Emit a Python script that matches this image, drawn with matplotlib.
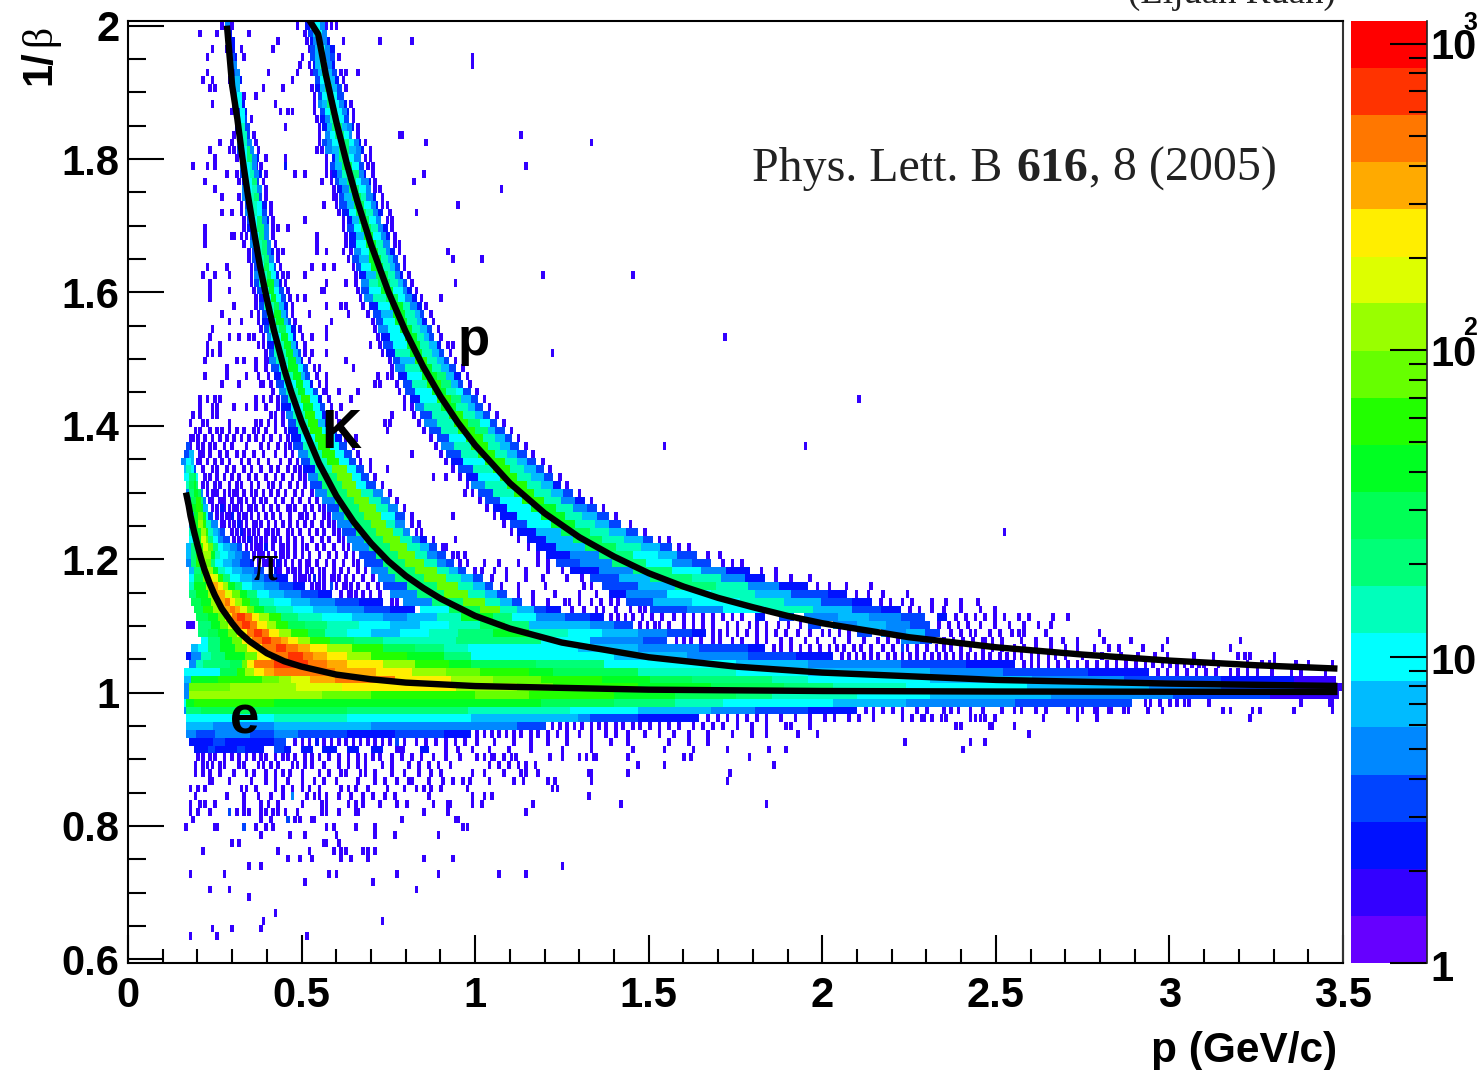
import re
import numpy as np
import matplotlib
matplotlib.use("Agg")
import matplotlib.pyplot as plt
from matplotlib.colors import ListedColormap
from matplotlib.ticker import MultipleLocator, LogLocator, NullFormatter, FixedLocator

# colour levels a..t, low to high
LEVEL_COLOURS = ["#6600ff", "#3300ff", "#0011ff", "#0044ff", "#0088ff", "#00bbff", "#00ffff",
                 "#00ffbb", "#00ff77", "#00ff55", "#00ff22", "#22ff00", "#66ff00", "#99ff00",
                 "#ddff00", "#ffee00", "#ffaa00", "#ff7700", "#ff3300", "#ff0000"]
LEVEL_EDGES = [1, 1.42, 2.03, 2.89, 4.12, 5.87, 8.35, 11.9, 17.0, 24.2, 34.4, 49.0, 69.9, 99.5,
               142, 202, 288, 410, 584, 832, 1186]

# Histogram rows from the top. Before "|": runs "start-bin level" ('.' ends a run);
# after "|": single cells (level b unless a letter follows). One bin = 0.007 GeV/c.
ROWS_TOP = [
 "40e 42. 73c 75f 77g 79e 81.|38 42 69 73 81 83 85",
 "40c 43. 74d 76f 78g 80e 82.|29 36 49 72",
 "41c 44. 75c 76e 78g 80e 82c 83.|61 88 103 116 73",
 "41c 44. 75d 77f 79g 81e 83c 85.|34 40 46 59 74",
 "41d 44c 45. 75d 77f 79h 81e 83d 85.|32 47 71 141 86",
 "41c 43e 45. 76c 77f 79h 82e 84c 85.|70 141 74",
 "42d 44e 46. 76d 78f 80i 82f 84d 86.|32 57 69 75 87 89 94",
 "42e 44f 46c 47. 77d 79g 81i 83f 85c 87.|30 34 41 67 88",
 "42d 44f 46. 77c 79f 81i 84f 86d 88.|33 35 55 63 75 89",
 "43e 45g 47. 78d 80g 82i 84g 86d 89.|52 47 76",
 "43d 45g 47c 48. 78e 80f 82i 85g 87e 89c 90.|34 60 76 91",
 "44d 46g 48c 49. 79d 81g 83i 86g 88e 90c 91.|42 62 65 67 76 92",
 "44d 46g 48d 49. 79c 81e 83h 87g 89d 91.|50 77 92",
 "44c 46h 48d 50. 80c 82f 84i 88f 90e 92c 93.|64 78 94",
 "45d 47h 49d 50. 81e 83g 85i 89g 91e 92.|43 51 78 94 111 112 161",
 "45e 47h 49e 51. 80d 82e 84g 87i 91g 93e 95c 96.|37 42 52 78 97 122 190",
 "45d 47g 49i 50e 52. 81e 84f 87i 91f 94e 96c 97.|33 41 43 53 77 79 99",
 "46c 47g 49i 51e 53c 54. 84c 85f 87i 91g 93e 96.|35 44 56 64 81 97 99",
 "46e 48g 50h 51e 53. 83d 85f 88j 92g 95d 97.|26 32 35 52 54 64c 81 98 100 163",
 "46d 48g 50h 52e 54c 55. 84c 86e 88h 92i 95e 97c 98.|40 44 53 56 68 72 81 83 100 121",
 "47c 49g 51i 53d 54. 85d 87f 90i 94g 96e 99c 100.|31 45 55 79 83 101 117",
 "47e 49g 51h 53e 55. 86c 88e 91i 95g 98e 100.|35 53 56 84 101 103 153",
 "47e 49h 52i 54d 55. 87d 89f 92j 96h 98e 101c 102.|38 45 56 84 85 104",
 "48d 50h 53g 55c 57. 87d 90f 93j 97g 100e 102c 103.|46 58 80 85 104 106 135",
 "48e 50h 53g 55d 57. 88c 91g 94j 98h 101e 103c 105.|38 42 46 58 86 107 118",
 "49d 51g 53i 55e 57c 58. 90c 92f 95j 99g 102e 104.|47 59 72 88 106 108",
 "49c 51g 53i 56e 58. 90d 93g 96j 100h 103e 105c 107.|31 47 59 61 65 88 108",
 "50d 52g 54i 56e 58. 91c 94f 97k 101g 104e 106c 108.|31 42 43 46 48 59 77 89 109",
 "50e 52h 55i 57e 59. 91c 94g 98k 102h 105e 108.|31 47 60 77 89 109 111",
 "51d 53h 55i 57e 59c 60. 93e 96g 99k 103h 106e 108c 110.|49 61 63 77 81 88 91 111 131",
 "51d 53h 56i 58e 60. 92d 95f 99k 104h 107f 109d 111.|49 61 90 113 133 145",
 "52d 54g 56j 58g 60d 61. 94d 96g 100k 105h 108f 110d 112.|32 40 50 62 75 80 84 92 113",
 "52e 54h 57j 59g 61c 62. 95c 98f 102j 107h 110e 112c 113.|30 35 41 50 63 65 72 93 115 170 207",
 "52d 54h 57k 60f 62c 63. 96e 99h 103j 108h 111f 113d 115.|33 50 62 64 81 89 93 116 134",
 "53d 55h 58k 60g 62d 64. 96d 99g 104k 109g 113e 115c 117.|33 41 51 65 79 80 94 118",
 "54c 56g 59k 61g 63d 65. 97e 101h 106j 111g 114e 117c 119.|33 52 66 69 72 95 120 128",
 "54d 56h 60j 62f 64c 66. 99c 103g 108k 113h 116e 119c 121.|43 52 63 67 81 87 89 96 122",
 "55d 57g 60k 63f 65d 66. 101d 104f 109k 114h 118f 120d 122.|38 50 53 67 74 90 98 124",
 "55c 58h 61k 64f 66d 67. 102d 105g 110k 115h 119f 121c 123.|41 46 53 68 83 100 125",
 "56d 58h 62j 65g 67c 69. 103e 107g 112k 117h 120f 123d 125.|34 54 70 81 101 127",
 "57e 59g 63k 66g 68c 69. 104c 108g 114k 119h 122f 124d 126.|33 41 45 49 51 55 71 75 81 102 128 245",
 "57c 60h 64k 67f 69c 70. 105d 109g 115k 120h 124f 127c 129.|32 37 53 55 72 99 103 131 133",
 "58d 60h 65k 68f 70d 71. 106c 110h 116k 121h 125f 128d 130.|32 34 37 56 72 75 81 104 132 174",
 "58e 61h 66k 69f 71c 72. 109d 112f 118l 123h 127f 130d 132.|31 44 47 52 56 57 74 89 107 134",
 "59d 62g 66k 70g 72d 74. 110e 114h 120k 125h 129f 132d 135.|40 52 56 76 78 92 108 137",
 "60c 63h 68k 71f 73d 75. 111c 115g 121k 127i 131f 134c 137.|31 40 48 53 57 77 81 102 106 108 139",
 "61d 64g 69k 72g 75c 76. 113d 117h 123l 129i 133f 136d 138.|38 45 54 55 58 78 81 101 103 110 140",
 "62e 65h 70k 73g 76d 78. 114d 118g 125k 131h 135g 138d 141.|59 80 81 86 94 111 143",
 "63d 66h 71l 75g 78c 80. 116c 120g 127l 133i 137f 141d 144.|29 32 35 37 52 55 58 61 76 82 91 113 146 300",
 "63c 67g 72k 76g 79d 81. 118e 122h 129k 135h 140f 143d 146.|29 34 36 43 48 52 56 61 83 87 113 116 148",
 "65e 68h 73l 77g 80c 83. 120d 125h 132l 138h 143f 146d 149.|26 29 34 36 58 60 63 85 108 117 151",
 "66d 69h 74l 78f 81c 84. 122e 127h 134l 140i 145g 149d 152.|25 30 32 41 52 54 57 60 63 86 105 107 119 154",
]
ROWS_UPPER = [
 "66c 70h 75l 80g 84d 86. 124d 129h 136l 143i 148f 151d 155.|27 29 33 36 38 41 44 47 51 53 56 60 64 88 106 121 157",
 "67c 71g 77l 82g 85c 88. 127d 132g 139l 146h 151f 155d 158.|25 26 28 31 34 37 40 43 46 49 52 55 58 62 65 89 93 124 160",
 "68d 72h 78l 83g 87d 90. 129e 134h 141l 148h 153f 157d 161.|24d 25 28 30 33 35 39 42 48 54 57 61 64 66 92 126 163 220 278",
 "23d 25f 27. 70e 74h 80l 85g 89d 92. 131d 137h 144l 151h 156f 160d 164.|29 30 33 37 40 44 47 51 55 60 64 67 94 116 128 166",
 "22e 24g 26f 27. 71d 75h 82l 87g 91d 94. 133c 138g 147l 155h 160f 164d 168.|28 29 32 35 38 41 46 49 53 57 62 66 69 95 99 130 170",
 "23f 24h 26g 27d 28. 72c 77h 84m 90g 94d 97. 136d 142h 150l 157h 163f 168d 171.|30 34 36 40 43 47 50 54 58 61 65 68 70 99 106 133 173",
 "23g 25i 27j 28g 29. 74e 78i 86m 92g 96d 99. 139c 144g 153l 160h 166f 171d 175.|31 33 36 39 42 45 49 52 56 60 63 67 70 72 101 125 130 136 177",
 "24h 25j 27k 28i 29. 75d 80i 88m 94g 98d 102. 141e 147h 156l 164h 170f 175c 178.|30 32 35 37 41 44 46 50 53 57 59 62 66 69 72 104 139 180",
]
ROWS_LOWER = [
 "24e 25i 27k 29j 30e 31. 77e 82i 90m 96h 101e 105. 144d 150h 159l 167h 174f 179d 183.|32 34 35 36 39 41 43 44 47 50 52 55 58 61 64 68 71 75 107 138 141 185",
 "24e 26j 28l 30i 31e 32. 80e 85i 93m 99h 104e 108. 147d 153g 162l 171h 178e 184c 188.|33 34 37 38 39 42 45 46 48 51 54 56 60 63 67 70 74 77 110 144 190",
 "25f 26k 28l 30k 31f 33. 82d 87i 95m 102h 107e 111. 150c 156g 166k 176h 183e 189d 193.|34 36 38c 39 41 43 44 46 49 50 52 55 58 61 65 66 68 72 75 78 80 113 147 195",
 "25f 27k 29m 31k 32g 33d 35. 84e 89i 97m 104g 110d 114. 153c 160g 170k 180h 187f 193d 198.|36 38 40 41 42c 45 47 48 50 53 56 59 62 66 70 71 73 76 80 82 116 133 150 200",
 "25e 27k 29n 31l 32h 34e 37. 86e 92i 100m 106h 110e 114. 157d 164g 174k 184h 192f 198d 203.|38 39 41 43 45c 46 48 51 52 54 57 60 63 66 69 72 75 79 82 84 116 119 154 206",
 "25h 27k 30n 32l 33h 35f 37e 38d 40. 88d 94i 102m 109h 113e 116. 160c 168f 178j 190h 198f 205d 210.|42 44 46c 47 49 51 53 56 57 59 61 65 67 70 74 77 80 84 86 118 120 157 212 360",
 "25g 27k 30o 32m 33i 35g 37e 39d 42. 90e 97i 105m 112h 117e 120c 123. 164c 172f 183j 195h 204f 212d 216.|43 45 47 49c 50 52 54 56 59 60 62 65 68 71 75 79 82 86 88 125 118 134 160 218 222",
 "24f 26i 28l 31o 33m 35i 37g 39f 42e 45d 47. 92e 99i 108m 115h 120f 124d 127. 168c 176f 188j 201h 211f 219d 224.|48 50 52 53 54 56c 59 62 63 65 68 71 73 77 80 84 88 90 129 130 164 226 230",
 "24f 26i 28l 30n 32n 34k 36h 38g 41f 44e 47d 50. 95d 102i 111m 118h 123e 127d 131. 172c 182e 194i 208g 218f 226d 234.|51 53 54 55 57 60 62 63 65 68 71 74 78 82 85 89 92 133 135 138 168 238 243",
 "24e 26i 28l 30n 32m 34i 36g 39f 43e 46d 50c 52. 97d 105i 114m 122h 127e 131d 134. 176d 186e 199i 213g 224e 232d 240.|53 55 56 57 59 61c 62 64 67 70 73 74 77 81 84 88 92 94 136 139 146 152 160 168 172 244 248 252",
 "25f 27i 30l 32n 34n 35k 37h 40g 43f 47e 52d 56. 100e 107i 118m 127h 132f 136d 139. 182c 194e 208i 224g 236e 246c 256.|58 60c 61 62 65 67 68 70 73 75 78 80 84 87 90 94 97 142 145 150 155 163 172 178 260 266",
 "25g 27j 31m 33p 35o 37l 39i 42g 46f 51e 56d 61c 66. 103e 110i 122m 131h 137f 142d 146. 190d 202f 215i 232h 244e 254c 262.|68 70 71 72 74 76c 78 80 83 84 86 89 92 96 100 149 155 163 170 180 186 266 272 280",
 "25h 27k 32n 34q 37p 39n 41k 44i 47g 51f 56e 62d 68c 73. 105d 115i 127m 136h 142f 147d 150. 195d 210f 225i 242h 255e 268c 280.|75 77 78 80 83d 85 88 89 91 94 98 102 153 160 171 187 190 283 288 295 305",
 "25i 28k 33n 35q 38q 40o 43m 46k 49i 53g 58f 64e 71d 78c 84. 108e 119i 130m 140h 147f 152d 156. 198c 205e 222g 240h 258f 273d 288c 296.|87 90 91 93 96 99 103 160 166 175 185 192 299 304 310 320",
 "26j 30k 34n 37q 40r 42p 44n 47l 50j 54h 60g 67f 75e 85d 95c 105. 113e 125i 138m 147h 153f 158d 162. 205d 216f 232g 252h 270f 285d 298c 306.|108 110 166 172 179 181 185 190 194 198 201 309 313 318 322 330 336 342 349",
 "27j 31l 35n 38q 42r 44q 46o 49m 52k 56i 61h 68g 76f 86e 97d 108c 118. 120g 132j 145m 153h 160f 167d 172c 178. 215d 230e 245g 262h 282f 298d 310c 318.|182 187 192 195 200 206 210 212 321 325 330 335 342 350 356",
 "28j 33k 37m 40p 43r 45s 48r 51p 54n 58l 63i 70h 80g 92f 105e 115f 127h 137k 150i 158g 168e 180d 190c 196. 258c 262. 268d 274. 278e 292f 305e 318d 328. 333c 337.|198 201 204 207 211 215 219 224 228 232 236 240 244 248 252 340 344 348 352 356 360 366 370 380 386",
 "29i 34k 38m 41o 44r 47s 50r 53p 57n 61l 66j 73i 82h 95g 108f 120g 132h 145j 155i 165f 190e 200d 208. 280d 285. 290e 300f 312e 322d 330.|24 25 26 210 213 216 218 222 228 232 236 240 246 250 255 258 262 267 271 276 333 337 341 345 350 356 362 368 374 379",
 "29i 33j 37k 41m 45p 49r 52s 55r 58p 62n 67l 74j 81h 90g 100f 112g 124h 136i 150k 165h 181g 195f 210e 222d 232c 238. 300d 306. 310e 320f 328d 334.|240 243 246 250 254 258 262 266 270 275 280 285 288 292 296 338 342 346 348 354 358 363 366 368 377 399",
 "30g 33i 38k 43m 47p 51r 55s 59r 63q 66p 70n 75l 83j 93i 105h 120h 135i 150i 170g 190e 212d 222. 318e 326d 331.|225 228 231 235 240 243 248 252 258 262 268 272 278 283 290 296 302 308 312 316 335 339 343 347 351 352 355 359 367 373 379 384 390 401 412 427 457",
 "26f 29g 33i 38k 44m 49p 55r 61s 65r 70q 75p 82n 92l 105j 118i 130h 140g 150g 185f 210e 235d 255c 262.|265 268 272 276 280 284 288 291 294 298 301 305 310 314 318d 320 324 328 332 335 338 342 346 351 355 359 364 368 373 379 385 390 397 403 407 417 425 453",
 "24c 26e 30h 34i 40k 48m 53p 59r 66s 72r 76q 82p 90n 100l 115k 130i 141g 200f 230e 255d 275c 290.|293 296 299 302 305 308 312 315 318 321 324 327 330 333 336 339 342 345 348 351 354 358 361 364 367 371 374 378 381 385 392 400 408 415 422 427 438 446 456 459 461 471",
 "25e 28h 31i 42j 47m 49p 52r 60s 74r 82q 90p 105n 118l 132k 141j 168i 196g 250f 280e 318d 345c 365.|368 371 374 378 382 386 390 394 398 402 406 410 414 418 421 425 428 431 434 437 440 442 448 460 466 469 471 480 485 495",
 "23g 28g 38j 45l 48n 52p 56q 60r 85q 102p 117n 131m 145l 165k 175j 210h 250g 280f 330e 360d 395c 420.|423 427 431 435 439 443 447 453 456 460 464 470 478 482 492",
 "23f 26k 37l 55m 62n 67o 75q 85r 110p 133n 150m 170l 195k 215j 232i 265h 280g 330f 372e 410d 450c 480b 497.|",
]
ROWS_E_BAND = [
 "23e 25m 42n 69o 88p 135n 160m 175l 210k 240j 270i 290h 320g 370f 420e 450d 480b 497.|497 498",
 "23e 25n 80m 100l 143m 165l 200k 225j 250i 265h 300g 330f 380e 430d 470b 497.|497",
 "23g 24k 27l 60k 170j 200i 225h 245g 290f 320e 365d 413.|418 420 424 428 431 434 436 444 482 494 495",
 "23e 24i 30j 90i 140h 182g 210f 240e 258d 280c 300.|303 306 310 314 318 324 328 335 338 341 346 351 359 364 367 373 377 386 390 392 397 398 403 404 409 411 419 425 450 453 462 465 479 495",
 "24g 60h 90g 141f 185e 190d 210c 235.|238 242 246 250 254 258 262 268 274 280 286 290 296 300 306 318 322 326 327 330 334 336 346 348 350 352 356 376 390 398 461",
 "24f 35e 60f 100e 141e 160d 172.|174 177 180 183 186 190 193 196 200 203 207 210 214 218 222 226 232 236 240 244 250 256 262 270 272 280 340 342 354 355 364",
 "24e 28d 36e 50d 60e 70d 90c 110d 130c 141.|143 146 149 152 155 158 161 165 168 172 176 180 185 190 196 200 205 212 218 224 230 238 248 256 262 275 283 370",
 "25c 35d 40c 60d 65.|68 71 74 77c 80 83 86 89 92 95 98 101 104 107 110d 113 118 122 126 130 134 138 143 150 158 165 172 180 190 198 205 222 230 238 319 346 352",
 "27c 33d 36c 45d 48c 56. 60d 64c 67. 71c 76. 80c 86. 90c 95. 100c 105. 110b 114. 120c 124.|130 135 141 148 156 165 178 190 207 220 232 246 263 270 343",
]
ROWS_BELOW = [
 "|28 30 33 35 39 42 45 48 51 54 56 60 63 65 68 72 75 78 82 86 90 94 97 100 103 108 112 116 120 125 130 136 143 146 149 150 154 157 159 173 178 185 188 191 192 205 228 231 255",
 "|27 30 32 34 37 39 45 47 53 55 58 61 67 69 72 75 80 86 90 94 97 104 108 115 119 123 127 132 148 152 156 160 163 167 209 220 265",
 "|27 30 33 37 43 48 51 56 60 63 66 71 78 82 87 89 95 97 101 108 113 119 124 128 141 146 154 161 163 168 189 190 205 247",
 "|33 34 41 50 56 60 65 71 76 80 85 94 101 105 110 115 116 123 129 133 137 140 148 158 162 172 175 190 246",
 "|25 28 31 46 48 52 60 63 67 71 74 78 87 90 93 98 106 113 118 121 124 128 139 174 176",
 "|27 40 47 53 58 63 67e 73 76 78 81 86 91 96 100 105 109 123 141 146 149 189",
 "|25 29 31 35 47 54 57 61 71 79 81 90 93 96 103 110 114 125 131 132 141 145 166 202 262",
 "|25 28 33 41d 44 47 49 54 56 59 61 64 69 79 81 86 93 94 121 131 163",
 "|26 54 58 65d 68 70 75 76 112 134 135",
 "|23 35 36 47d 52 56 59 81 84 93 101 137 139",
 "|54 66 72 85 101 109 127",
 "|42 45 80 81 86",
 "|30 61 74 84 87 89 96 98 101",
 "|65 70 75 87 91 98 121 133",
 "|49 54 178",
 "|25 39 82 85 110 127 152 163",
 "|72 100",
 "|33 41 118",
 "|49",
 "|",
 "|60",
 "|55 104",
 "|34 42 54",
 "|25 36 73",
]

# drawn curves
PI_P = [0.167, 0.175, 0.18, 0.19, 0.2, 0.21, 0.22, 0.235, 0.25, 0.27, 0.3, 0.32, 0.35, 0.4, 0.45, 0.5, 0.6, 0.7, 0.8, 1.0, 1.5, 2.0, 2.5, 3.484]
PI_B = [1.30, 1.28, 1.265, 1.242, 1.221, 1.202, 1.185, 1.164, 1.146, 1.126, 1.104, 1.091, 1.077, 1.059, 1.047, 1.039, 1.027, 1.02, 1.015, 1.0098, 1.0044, 1.0024, 1.0016, 1.001]
K_P = [0.285, 0.3, 0.315, 0.33, 0.345, 0.36, 0.38, 0.4, 0.42, 0.45, 0.47, 0.5, 0.55, 0.6, 0.65, 0.7, 0.75, 0.8, 0.85, 0.9, 1.0, 1.1, 1.25, 1.5, 1.75, 2.0, 2.5, 3.0, 3.484]
K_B = [2.0, 1.91, 1.86, 1.80, 1.747, 1.70, 1.64, 1.59, 1.544, 1.485, 1.451, 1.406, 1.344, 1.295, 1.256, 1.224, 1.197, 1.175, 1.157, 1.141, 1.115, 1.096, 1.075, 1.053, 1.039, 1.03, 1.019, 1.0135, 1.01]
P_P = [0.52, 0.548, 0.57, 0.6, 0.63, 0.66, 0.7, 0.75, 0.8, 0.85, 0.9, 0.95, 1.0, 1.1, 1.2, 1.3, 1.4, 1.5, 1.6, 1.7, 1.8, 1.9, 2.0, 2.25, 2.5, 2.75, 3.0, 3.25, 3.484]
P_B = [2.01, 1.987, 1.926, 1.856, 1.794, 1.738, 1.672, 1.601, 1.541, 1.489, 1.444, 1.405, 1.371, 1.314, 1.269, 1.233, 1.204, 1.179, 1.159, 1.142, 1.128, 1.115, 1.104, 1.083, 1.068, 1.057, 1.048, 1.041, 1.036]

BIN_P = 0.007
ROW_B = 1.4 / 120
TOP_B = 2.0055

W, H = 1484, 1070
def fx(x): return x / W
def fy(y): return 1 - y / H

SANS = "Liberation Sans"
SERIF = "Liberation Serif"

rows = ROWS_TOP + ROWS_UPPER + ROWS_LOWER + ROWS_E_BAND + ROWS_BELOW
Z = np.full((len(rows), 1000), -1, dtype=int)   # half-bin grid
for k, row in enumerate(rows):
    runs, cells = row.split("|")
    toks = re.findall(r"(\d+)([a-t.])", runs)
    for i, (start, lev) in enumerate(toks):
        if lev == ".":
            continue
        end = int(toks[i + 1][0]) if i + 1 < len(toks) else int(start) + 1
        Z[k, 2 * int(start):2 * end] = ord(lev) - 97
    for cell, lev in re.findall(r"(\d+)([a-t]?)", cells):
        c = 2 * int(cell)
        seg = Z[k, c:c + 3]
        seg[seg < 0] = ord(lev) - 97 if lev else 1

x_edges = np.arange(1001) * BIN_P / 2
y_edges = TOP_B - np.arange(len(rows) + 1) * ROW_B
cmap = ListedColormap(LEVEL_COLOURS)

fig = plt.figure(figsize=(W / 100, H / 100), dpi=100, facecolor="white")
ax = fig.add_axes([fx(128), fy(963), (1343 - 128) / W, 942 / H])
ax.pcolormesh(x_edges, y_edges, np.ma.masked_less(Z, 0), cmap=cmap, vmin=-0.5, vmax=19.5,
              shading="flat", antialiased=False, linewidth=0)
for px_, py_ in [(P_P, P_B), (K_P, K_B), (PI_P, PI_B)]:
    ax.plot(px_, py_, color="black", lw=4.6, solid_joinstyle="round", solid_capstyle="butt")
ax.set_xlim(0, 3.5)
ax.set_ylim(0.5946, 2.0069)

ax.xaxis.set_major_locator(MultipleLocator(0.5))
ax.xaxis.set_minor_locator(MultipleLocator(0.1))
ax.yaxis.set_major_locator(FixedLocator([0.6, 0.8, 1.0, 1.2, 1.4, 1.6, 1.8, 2.0]))
ax.yaxis.set_minor_locator(MultipleLocator(0.05))
ax.set_xticks([0, 0.5, 1, 1.5, 2, 2.5, 3, 3.5])
ax.set_xticklabels(["0", "0.5", "1", "1.5", "2", "2.5", "3", "3.5"])
ax.set_yticklabels(["0.6", "0.8", "1", "1.2", "1.4", "1.6", "1.8", "2"])
ax.tick_params(axis="x", which="major", direction="in", length=20, width=1.5, pad=9.5)
ax.tick_params(axis="x", which="minor", direction="in", length=10, width=1.5)
ax.tick_params(axis="y", which="major", direction="in", length=26, width=1.5, pad=6)
ax.tick_params(axis="y", which="minor", direction="in", length=13, width=1.5)
for lab in ax.get_xticklabels() + ax.get_yticklabels():
    lab.set_fontfamily(SANS)
    lab.set_fontweight("bold")
    lab.set_fontsize(30)
for s in ax.spines.values():
    s.set_linewidth(1.5)
ax.spines["right"].set_color("#333333")

# colour bar
cax = fig.add_axes([fx(1351), fy(963), (1427 - 1351) / W, 942 / H])
cax.pcolormesh([0, 1], LEVEL_EDGES, np.arange(20).reshape(-1, 1), cmap=cmap, vmin=-0.5, vmax=19.5,
               antialiased=False, linewidth=0)
cax.set_yscale("log")
cax.set_ylim(LEVEL_EDGES[0], LEVEL_EDGES[-1])
cax.set_xlim(0, 1)
cax.set_xticks([])
cax.yaxis.tick_right()
cax.yaxis.set_major_locator(LogLocator(base=10, numticks=6))
cax.yaxis.set_minor_locator(LogLocator(base=10, subs=range(2, 10), numticks=6))
cax.yaxis.set_major_formatter(NullFormatter())
cax.yaxis.set_minor_formatter(NullFormatter())
cax.tick_params(axis="y", which="major", direction="in", length=26.5, width=1.5, right=True, left=False)
cax.tick_params(axis="y", which="minor", direction="in", length=13, width=1.5, right=True, left=False)
for side in ["top", "left", "bottom"]:
    cax.spines[side].set_visible(False)
cax.spines["right"].set_linewidth(1.2)
cax.spines["right"].set_color("#222222")

def label(x, y, s, size=30, family=SANS, weight="bold", **kw):
    kw.setdefault("ha", "left")
    kw.setdefault("va", "baseline")
    return fig.text(fx(x), fy(y), s, fontsize=size, family=family, fontweight=weight, color="black", **kw)

label(1430, 981, "1")
label(1430, 674, "10")
label(1430, 366, "10")
label(1430, 59, "10")
label(1463, 335, "2", size=18)
label(1463, 30, "3", size=18)

label(1337, 1062, "p (GeV/c)", size=30.5, ha="right")
label(50, 85, "1/", rotation=90, rotation_mode="anchor")
label(50, 46, "\u03b2", family=SERIF, weight="normal", rotation=90, rotation_mode="anchor")

label(458, 355, "p", size=38)
label(321, 448, "K", size=40)
label(251, 580, "\u03c0", size=38, family=SERIF, weight="normal")
label(230, 733, "e", size=38)

fig.text(fx(752), fy(181), "Phys. Lett. B", fontsize=34.5, family=SERIF, color="#222222", va="baseline")
fig.text(fx(1016), fy(181), "616", fontsize=34.5, family=SERIF, fontweight="bold", color="#222222", va="baseline")
fig.text(fx(1089), fy(181), ", 8 (2005)", fontsize=34.5, family=SERIF, color="#222222", va="baseline")
fig.text(fx(1336), fy(3), "(Lijuan Ruan)", fontsize=26.6, family=SERIF, color="#222222", va="baseline", ha="right")

fig.savefig("out.png", dpi=100, facecolor="white")
